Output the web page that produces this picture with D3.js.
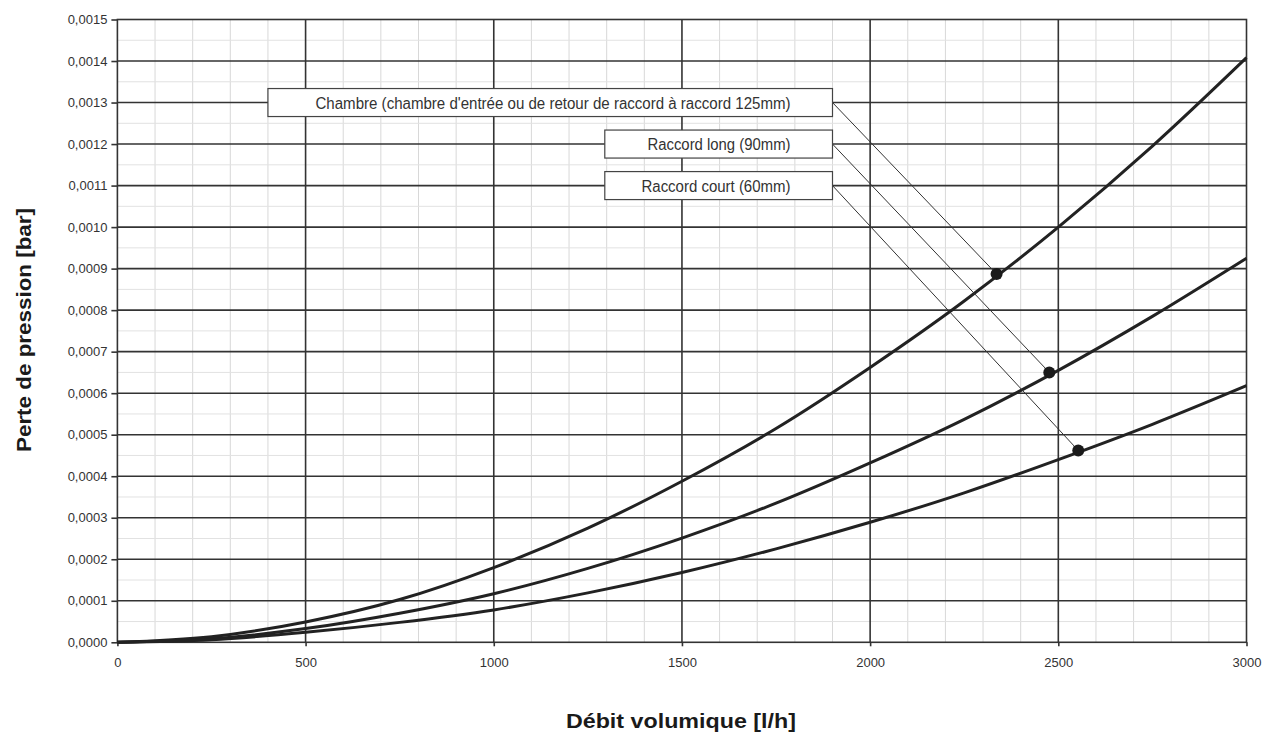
<!DOCTYPE html>
<html><head><meta charset="utf-8">
<script src="https://cdn.jsdelivr.net/npm/d3@7"></script>
<style>body{margin:0;background:#fff}</style>
</head><body>
<svg id="c" width="1263" height="740"></svg>
<script>
// ---- data ----
const flows        = [0, 250, 500, 750, 1000, 1250, 1500, 1750, 2000, 2250, 2500, 2750, 3000];
const chambre      = [0, 0.0000135, 0.000049, 0.000103, 0.000180, 0.000275, 0.000388, 0.000515, 0.000662, 0.000822, 0.001000, 0.001195, 0.001408];
const raccordLong  = [0, 0.0000085, 0.000033, 0.000070, 0.000117, 0.000178, 0.000251, 0.000335, 0.000432, 0.000537, 0.000655, 0.000785, 0.000925];
const raccordCourt = [0, 0.0000062, 0.000024, 0.000048, 0.000078, 0.000119, 0.000168, 0.000225, 0.000289, 0.000360, 0.000440, 0.000525, 0.000618];
const seriesNames  = ["Chambre (chambre d'entrée ou de retour de raccord à raccord 125mm)", "Raccord long (90mm)", "Raccord court (60mm)"];
const markerFlows  = [2336, 2476, 2553];
const markerValues = [0.000887, 0.000650, 0.000462];
const xTickValues  = [0, 500, 1000, 1500, 2000, 2500, 3000];
const yTickValues  = [0,0.0001,0.0002,0.0003,0.0004,0.0005,0.0006,0.0007,0.0008,0.0009,0.0010,0.0011,0.0012,0.0013,0.0014,0.0015];
const xTitle = "Débit volumique [l/h]";
const yTitle = "Perte de pression [bar]";
// label boxes anchored in data space: [flow start, flow end, pressure centre]
const labelAnchors = [[400, 1900, 0.0013], [1295, 1900, 0.0012], [1295, 1900, 0.0011]];

// ---- layout ----
const L = 117.4, R = 1246.5, T = 19.5, B = 642.3;
const svg = d3.select("#c");
const x = d3.scaleLinear().domain([0, 3000]).range([L, R]);
const y = d3.scaleLinear().domain([0, 0.0015]).range([B, T]);
const fr = d3.formatLocale({decimal: ",", thousands: " ", grouping: [3], currency: ["", ""]});
const fmtY = fr.format(".4f");

const sans = "'Liberation Sans',Arial,Helvetica,sans-serif";

// minor grid
const g = svg.append("g");
g.selectAll(".mx").data(d3.range(100, 3000, 100).filter(v => v % 500 !== 0)).join("line")
  .attr("x1", d => x(d)).attr("x2", d => x(d)).attr("y1", T).attr("y2", B)
  .attr("stroke", "#d8d8d8").attr("stroke-width", 1);
g.selectAll(".my").data(d3.range(0.00005, 0.0015, 0.0001)).join("line")
  .attr("y1", d => y(d)).attr("y2", d => y(d)).attr("x1", L).attr("x2", R)
  .attr("stroke", "#e2e2e2").attr("stroke-width", 1);
// major grid
g.selectAll(".Mx").data(xTickValues.slice(1, -1)).join("line")
  .attr("x1", d => x(d)).attr("x2", d => x(d)).attr("y1", T).attr("y2", B)
  .attr("stroke", "#333").attr("stroke-width", 1.6);
g.selectAll(".My").data(yTickValues.slice(1, -1)).join("line")
  .attr("y1", d => y(d)).attr("y2", d => y(d)).attr("x1", L).attr("x2", R)
  .attr("stroke", "#333").attr("stroke-width", 1.6);
// frame
svg.append("rect").attr("x", L).attr("y", T).attr("width", R - L).attr("height", B - T)
  .attr("fill", "none").attr("stroke", "#333").attr("stroke-width", 1.6);

// axes
const xa = svg.append("g").attr("transform", `translate(0,${B})`)
  .call(d3.axisBottom(x).tickValues(xTickValues).tickSize(4).tickPadding(11).tickFormat(d3.format("d")));
const ya = svg.append("g").attr("transform", `translate(${L},0)`)
  .call(d3.axisLeft(y).tickValues(yTickValues).tickSize(6).tickPadding(4).tickFormat(fmtY));
[xa, ya].forEach(a => {
  a.select(".domain").remove();
  a.selectAll(".tick line").attr("stroke", "#333").attr("stroke-width", 1.6);
  a.selectAll(".tick text").attr("fill", "#333").style("font-family", sans).style("font-size", "13px");
});

// curves
const series = [chambre, raccordLong, raccordCourt];
const line = d3.line().x((d, i) => x(flows[i])).y(d => y(d)).curve(d3.curveMonotoneX);
svg.selectAll(".curve").data(series).join("path")
  .attr("d", d => line(d)).attr("fill", "none").attr("stroke", "#222").attr("stroke-width", 3);

// label boxes + leaders
const boxH = 28;
const widths = [475, 143, 149];
labelAnchors.forEach((a, i) => {
  const x0 = x(a[0]), x1 = x(a[1]), yc = y(a[2]);
  svg.append("line").attr("x1", x1).attr("y1", yc).attr("x2", x(markerFlows[i])).attr("y2", y(markerValues[i]))
    .attr("stroke", "#333").attr("stroke-width", 1);
  svg.append("rect").attr("x", x0).attr("y", yc - boxH / 2).attr("width", x1 - x0).attr("height", boxH)
    .attr("fill", "#fff").attr("stroke", "#444").attr("stroke-width", 1.2);
  svg.append("text").attr("x", x1 - 42).attr("y", yc + 6).attr("text-anchor", "end")
    .style("font-family", sans).style("font-size", "16px").attr("fill", "#333")
    .attr("textLength", widths[i]).attr("lengthAdjust", "spacingAndGlyphs").text(seriesNames[i]);
});

// markers
svg.selectAll(".dot").data(markerFlows).join("circle")
  .attr("cx", d => x(d)).attr("cy", (d, i) => y(markerValues[i])).attr("r", 6).attr("fill", "#1a1a1a");

// titles
svg.append("text").attr("x", (L + R) / 2 - 1).attr("y", 728).attr("text-anchor", "middle")
  .style("font-family", sans).style("font-weight", "bold").style("font-size", "21px").attr("fill", "#1a1a1a")
  .attr("textLength", 230).attr("lengthAdjust", "spacingAndGlyphs").text(xTitle);
svg.append("text").attr("transform", "translate(31,330) rotate(-90)").attr("text-anchor", "middle")
  .style("font-family", sans).style("font-weight", "bold").style("font-size", "21px").attr("fill", "#1a1a1a")
  .attr("textLength", 244).attr("lengthAdjust", "spacingAndGlyphs").text(yTitle);
</script>
</body></html>
